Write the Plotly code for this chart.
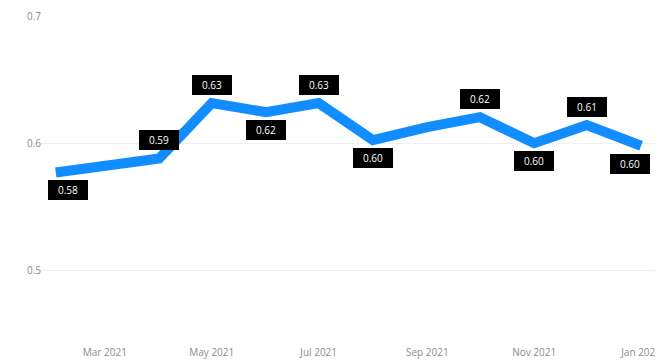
import plotly.graph_objects as go

months = ["2021-02-01", "2021-03-01", "2021-04-01", "2021-05-01", "2021-06-01", "2021-07-01",
          "2021-08-01", "2021-09-01", "2021-10-01", "2021-11-01", "2021-12-01", "2022-01-01"]
values = [0.577, 0.583, 0.588, 0.6315, 0.6244, 0.6315, 0.6024, 0.6126, 0.6205, 0.600, 0.6142, 0.598]
# label placement per point: 1 above, -1 below, 0 none
label_pos = [-1, 0, 1, 1, -1, 1, -1, 0, 1, -1, 1, -1]

fig = go.Figure()
fig.add_trace(go.Scatter(
    x=months, y=values, mode="lines",
    line=dict(color="#118DFF", width=10, shape="linear"),
    hoverinfo="skip", showlegend=False,
))

n = len(months)
for i, (m, v, p) in enumerate(zip(months, values, label_pos)):
    if p == 0:
        continue
    xs = 0
    if i == 0:
        xs = 12
    elif i == n - 1:
        xs = -11
    fig.add_annotation(
        x=m, y=v, text=f"{v:.2f}", showarrow=False,
        yshift=18 * p, xshift=xs,
        bgcolor="#000000", bordercolor="#000000", borderwidth=0, borderpad=4,
        width=32, height=12,
        font=dict(family="Open Sans, Segoe UI, sans-serif", size=10, color="#FFFFFF"),
    )

fig.update_layout(
    width=655, height=353,
    margin=dict(l=25, r=0, t=8, b=27),
    paper_bgcolor="#FFFFFF", plot_bgcolor="#FFFFFF",
    font=dict(family="Open Sans, Segoe UI, sans-serif", size=10, color="#8C8C8C"),
    xaxis=dict(
        type="date", range=["2021-01-19", "2022-01-13 12:00"],
        dtick="M2", tick0="2021-01-01", tickformat="%b %Y",
        showgrid=False, zeroline=False, showline=False,
        ticks="outside", ticklen=9, tickcolor="rgba(0,0,0,0)",
        tickfont=dict(size=10, color="#8C8C8C"),
    ),
    yaxis=dict(
        range=[0.45, 0.7], tickvals=[0.5, 0.6, 0.7], ticktext=["0.5", "0.6", "0.7"],
        showgrid=True, gridcolor="#F0F0F0", gridwidth=1,
        zeroline=False, showline=False,
        ticklabelstandoff=-9,
        tickfont=dict(size=10, color="#8C8C8C"),
    ),
)

fig.write_html("out.html")
